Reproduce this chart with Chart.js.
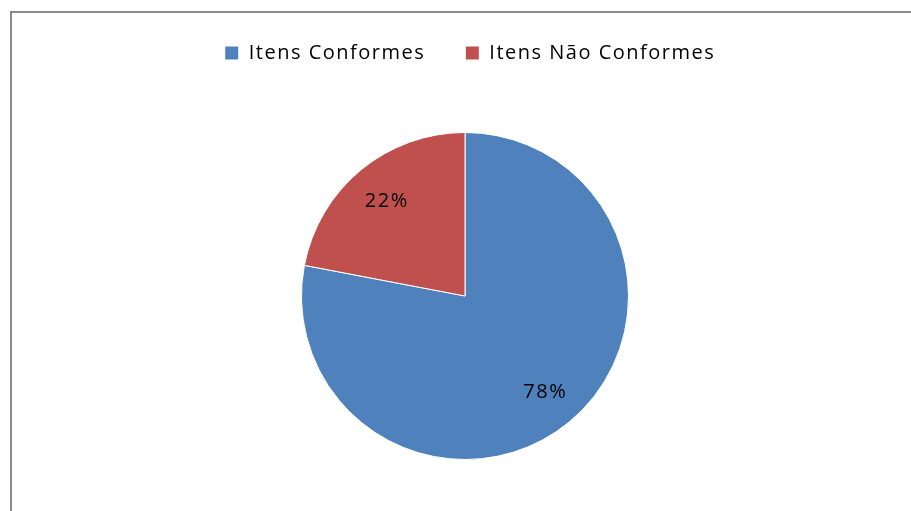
<!DOCTYPE html>
<html lang="pt">
<head>
    <meta charset="UTF-8">
    <title>Itens Conformes</title>
    <script src="https://cdn.jsdelivr.net/npm/chart.js"></script>
    <style>
        html, body { margin: 0; padding: 0; background: #fff; }
        #wrap { position: relative; width: 911px; height: 511px; overflow: hidden; }
        #frame {
            position: absolute; left: 10px; top: 11px; width: 960px; height: 560px;
            border-left: 2px solid #8a8a8a; border-top: 2px solid #8a8a8a;
        }
        canvas { position: absolute; left: 0; top: 0; }
    </style>
</head>
<body>
    <div id="wrap">
        <div id="frame"></div>
        <canvas id="pieChart" width="911" height="511"></canvas>
    </div>

    <script>
        // chart data
        const categories = ['Itens Conformes', 'Itens Não Conformes'];
        const percentages = [78, 22];
        const sliceColors = ['#4F81BD', '#C0504D'];

        // the original text is a bit wider than Open Sans, so space it out a little
        const spacing = {
            id: 'spacing',
            beforeLayout(chart) { chart.ctx.letterSpacing = '1.5px'; },
            beforeDraw(chart) { chart.ctx.letterSpacing = '1.5px'; }
        };

        // leave room between legend and pie, and nudge the legend a bit right
        const legendGap = {
            id: 'legendGap',
            beforeInit(chart) {
                const fit = chart.legend.fit;
                chart.legend.fit = function () {
                    fit.call(this);
                    this.height += 59;
                };
            },
            afterLayout(chart) {
                chart.legend.left += 5;
                chart.legend.right += 5;
            }
        };

        // percentage labels inside each slice
        const sliceLabels = {
            id: 'sliceLabels',
            afterDatasetsDraw(chart) {
                const ctx = chart.ctx;
                const meta = chart.getDatasetMeta(0);
                ctx.save();
                ctx.font = '20px "Open Sans", sans-serif';
                ctx.fillStyle = '#000';
                ctx.textAlign = 'center';
                ctx.textBaseline = 'middle';
                meta.data.forEach((arc, i) => {
                    const mid = (arc.startAngle + arc.endAngle) / 2;
                    const r = arc.outerRadius * 0.76;
                    ctx.fillText(percentages[i] + '%', arc.x + Math.cos(mid) * r + 1, arc.y + Math.sin(mid) * r + 1);
                });
                ctx.restore();
            }
        };

        const ctx = document.getElementById('pieChart').getContext('2d');
        new Chart(ctx, {
            type: 'pie',
            data: {
                labels: categories,
                datasets: [{
                    data: percentages,
                    backgroundColor: sliceColors,
                    borderColor: '#ffffff',
                    borderWidth: 1
                }]
            },
            options: {
                responsive: false,
                animation: false,
                layout: { padding: { left: 19, right: 0, top: 3, bottom: 51 } },
                plugins: {
                    tooltip: { enabled: false },
                    legend: {
                        position: 'top',
                        padding: 0,
                        labels: {
                            font: { family: '"Open Sans", sans-serif', size: 20 },
                            color: '#000',
                            boxWidth: 14,
                            boxHeight: 14,
                            padding: 40
                        }
                    }
                }
            },
            plugins: [spacing, legendGap, sliceLabels]
        });
    </script>
</body>
</html>
